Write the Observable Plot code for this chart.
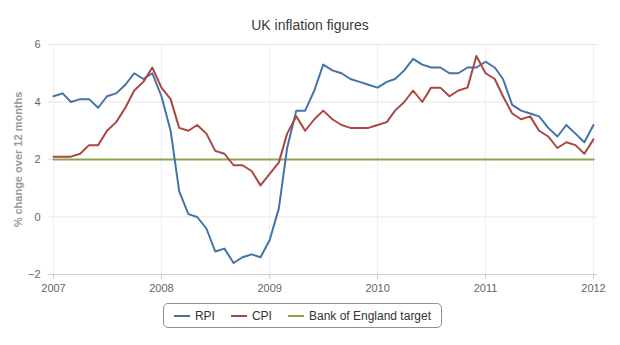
<!DOCTYPE html>
<html>
<head>
<meta charset="utf-8">
<script src="https://cdn.jsdelivr.net/npm/d3@7"></script>
<script src="https://cdn.jsdelivr.net/npm/@observablehq/plot@0.6"></script>
<style>
  html, body { margin: 0; padding: 0; background: #fff; }
  #wrap { position: relative; width: 620px; height: 345px; font-family: "Liberation Sans", Arial, sans-serif; }
  #title { position: absolute; left: 0; top: 17px; width: 620px; text-align: center; font-size: 14px; color: #3a3a3a; }
  #legend { position: absolute; left: 163px; top: 303px; width: 277px; height: 23px; border: 1px solid #909090; border-radius: 5px;
            display: flex; align-items: center; justify-content: center; gap: 0; font-size: 12px; color: #333; box-sizing: content-box; }
  .item { display: flex; align-items: center; margin: 0 8px; }
  .sw { width: 16px; height: 2px; margin-right: 5px; }
</style>
</head>
<body>
<div id="wrap">
  <div id="chart"></div>
  <div id="title">UK inflation figures</div>
  <div id="legend"></div>
</div>
<script>
const title = "UK inflation figures";
const yLabel = "% change over 12 months";
const startYear = 2007;
const yearTicks = [2007, 2008, 2009, 2010, 2011, 2012];
const yTicks = [-2, 0, 2, 4, 6];
const seriesNames = ["RPI", "CPI", "Bank of England target"];
const seriesColors = ["#4572A7", "#AA4643", "#89A54E"];

const rpi = [
  4.2, 4.3, 4.0, 4.1, 4.1, 3.8, 4.2, 4.3, 4.6, 5.0, 4.8, 5.0,
  4.2, 3.0, 0.9, 0.1, 0.0, -0.4, -1.2, -1.1, -1.6, -1.4, -1.3, -1.4,
  -0.8, 0.3, 2.4, 3.7, 3.7, 4.4, 5.3, 5.1, 5.0, 4.8, 4.7, 4.6,
  4.5, 4.7, 4.8, 5.1, 5.5, 5.3, 5.2, 5.2, 5.0, 5.0, 5.2, 5.2,
  5.4, 5.2, 4.8, 3.9, 3.7, 3.6, 3.5, 3.1, 2.8, 3.2, 2.9, 2.6, 3.2
];
const cpi = [
  2.1, 2.1, 2.1, 2.2, 2.5, 2.5, 3.0, 3.3, 3.8, 4.4, 4.7, 5.2,
  4.5, 4.1, 3.1, 3.0, 3.2, 2.9, 2.3, 2.2, 1.8, 1.8, 1.6, 1.1,
  1.5, 1.9, 2.9, 3.5, 3.0, 3.4, 3.7, 3.4, 3.2, 3.1, 3.1, 3.1,
  3.2, 3.3, 3.7, 4.0, 4.4, 4.0, 4.5, 4.5, 4.2, 4.4, 4.5, 5.6,
  5.0, 4.8, 4.2, 3.6, 3.4, 3.5, 3.0, 2.8, 2.4, 2.6, 2.5, 2.2, 2.7
];
const targetValue = 2;

const month = (k) => new Date(Date.UTC(startYear, k, 1));
const rows = [];
rpi.forEach((v, k) => rows.push({series: seriesNames[0], date: month(k), value: v}));
cpi.forEach((v, k) => rows.push({series: seriesNames[1], date: month(k), value: v}));
const targetRows = [0, rpi.length - 1].map(k => ({series: seriesNames[2], date: month(k), value: targetValue}));
const yearDates = yearTicks.map(y => new Date(Date.UTC(y, 0, 1)));

const chart = Plot.plot({
  width: 620,
  height: 345,
  marginTop: 44,
  marginBottom: 71,
  marginLeft: 48,
  marginRight: 23,
  style: {fontFamily: "'Liberation Sans', Arial, sans-serif", fontSize: "11px", background: "transparent", overflow: "visible"},
  x: {type: "utc", domain: [yearDates[0], yearDates[yearDates.length - 1]], insetLeft: 5, insetRight: 4},
  y: {domain: [-2, 6]},
  color: {domain: seriesNames, range: seriesColors},
  marks: [
    Plot.gridY(yTicks, {stroke: "#e6e6e6", strokeOpacity: 1}),
    Plot.gridX(yearDates, {stroke: "#eceef2", strokeOpacity: 1}),
    Plot.ruleY([-2], {stroke: "#C0D0E0"}),
    Plot.axisX(yearDates, {tickSize: 5, tickPadding: 5, stroke: "#C0D0E0", fill: "#666", tickFormat: d3.utcFormat("%Y"), label: null}),
    Plot.axisY(yTicks, {tickSize: 0, tickPadding: 8, fill: "#666", label: null}),
    Plot.text([yLabel], {frameAnchor: "left", textAnchor: "middle", rotate: -90, dx: -30, fontWeight: "bold", fill: "#999", fontSize: 11}),
    Plot.line(targetRows, {x: "date", y: "value", stroke: "series", strokeWidth: 2}),
    Plot.line(rows, {x: "date", y: "value", z: "series", stroke: "series", strokeWidth: 2, strokeLinejoin: "round"})
  ]
});
document.getElementById("chart").appendChild(chart);

const legend = document.getElementById("legend");
seriesNames.forEach((name, i) => {
  const item = document.createElement("div");
  item.className = "item";
  const sw = document.createElement("span");
  sw.className = "sw";
  sw.style.background = seriesColors[i];
  const label = document.createElement("span");
  label.textContent = name;
  item.appendChild(sw);
  item.appendChild(label);
  legend.appendChild(item);
});
</script>
</body>
</html>
